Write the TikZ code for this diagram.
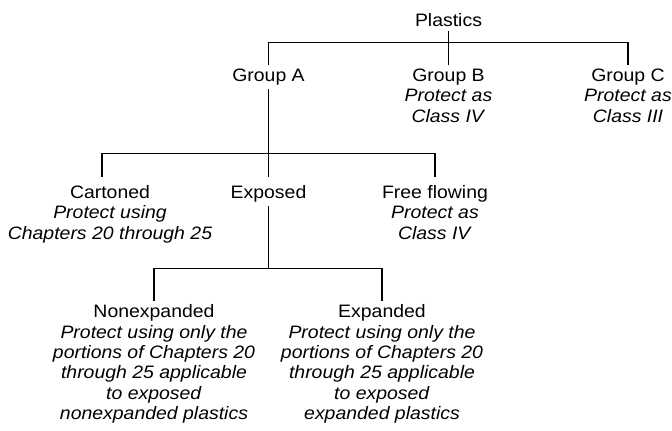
\documentclass[tikz,border=0pt]{standalone}
\usepackage{fontspec}
\setmainfont{Liberation Sans}[FakeStretch=1.08]
\usetikzlibrary{positioning}

\begin{document}
\begin{tikzpicture}[x=1pt, y=-1pt,
  lbl/.style={anchor=north, align=center, inner sep=4pt,
    font={\fontsize{18}{20.4}\selectfont}},
  link/.style={line width=1.6pt}
]
\useasboundingbox (0,0) rectangle (672,431);
% --- top level ---
\node[lbl] (plastics) at (448.5,9) {Plastics};
\node[lbl] (groupA) at (268.5,64.5) {Group A};
\node[lbl] (groupB) at (448.5,64.5) {Group B\\\textit{Protect as}\\\textit{Class IV}};
\node[lbl] (groupC) at (628,64.5) {Group C\\\textit{Protect as}\\\textit{Class III}};
% --- Group A ---
\node[lbl] (cart) at (110,181.3) {Cartoned\\\textit{Protect using}\\\textit{Chapters 20 through 25}};
\node[lbl] (expo) at (268.5,181.3) {Exposed};
\node[lbl] (free) at (435,181.3) {Free flowing\\\textit{Protect as}\\\textit{Class IV}};
% --- Exposed ---
\node[lbl] (nonexp) at (154,300.5) {Nonexpanded\\\textit{Protect using only the}\\\textit{portions of Chapters 20}\\\textit{through 25 applicable}\\\textit{to exposed}\\\textit{nonexpanded plastics}};
\node[lbl] (expa) at (382,300.5) {Expanded\\\textit{Protect using only the}\\\textit{portions of Chapters 20}\\\textit{through 25 applicable}\\\textit{to exposed}\\\textit{expanded plastics}};
% junctions
\coordinate (j1) at (448.5,42.5);
\coordinate (j2) at (268.5,153.3);
\coordinate (j3) at (268.5,268.3);
% connectors
\draw[link] (plastics.south) -- (j1) -- (groupB.north);
\draw[link] (groupA.north) |- (j1) -| (groupC.north);
\draw[link] (groupA.south) -- (j2) -- ([yshift=4pt]expo.north);
\draw[link] ([shift={(-8pt,4pt)}]cart.north) |- (j2) -| ([yshift=4pt]free.north);
\draw[link] (expo.south) -- (j3);
\draw[link] (nonexp.north) |- (j3) -| (expa.north);
\end{tikzpicture}
\end{document}
